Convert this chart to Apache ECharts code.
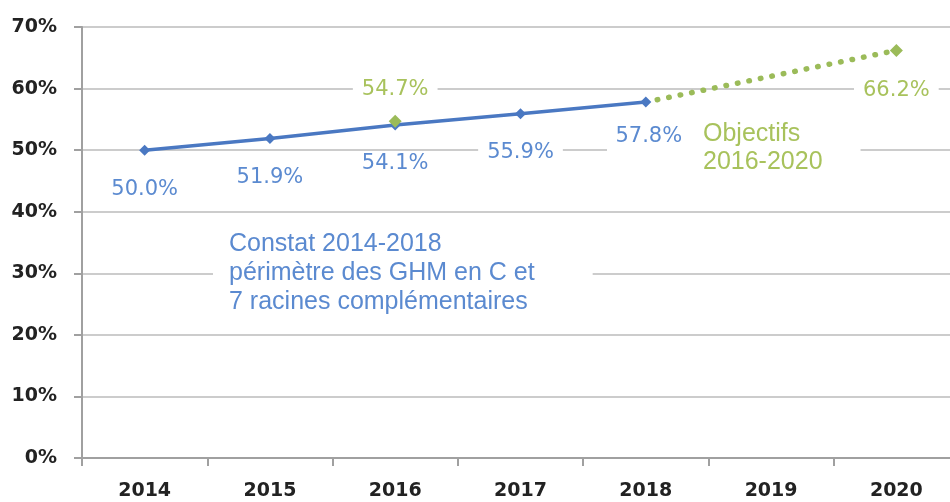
<!DOCTYPE html>
<html>
<head>
<meta charset="utf-8">
<script src="https://cdn.jsdelivr.net/npm/echarts@6/dist/echarts.min.js"></script>
<style>
  html, body { margin: 0; padding: 0; background: #fff; overflow: hidden; }
  #chart { width: 975px; height: 502px; }
</style>
</head>
<body>
<div id="chart"></div>
<script>
var years = ['2014', '2015', '2016', '2017', '2018', '2019', '2020'];
var constat = [50.0, 51.9, 54.1, 55.9, 57.8, null, null];
var objectif = [null, null, null, null, 57.8, null, 66.2];
var objectif2016 = [null, null, 54.7, null, null, null, null];

var blue = '#4a78c2';
var blueText = '#5b8ad0';
var green = '#9bbb59';
var greenText = '#a8c25c';

// le graphique d'origine est coupé à droite : la zone de tracé dépasse la fenêtre
var chart = echarts.init(document.getElementById('chart'));

var labelBase = {
    show: true,
    fontFamily: 'DejaVu Sans',
    fontSize: 21,
    lineHeight: 21,
    backgroundColor: '#fff',
    padding: [1, 9],
    formatter: function (p) { return p.value.toFixed(1) + '%'; }
};

var constatData = constat.map(function (v, i) {
    if (v === null) return null;
    var item = { value: v };
    if (i === 4) item.label = { distance: 17, offset: [3, 0] };
    return item;
});

var objectifData = objectif.map(function (v, i) {
    if (v === null) return null;
    // le point 2018 est déjà porté par la série constat
    if (i === 4) return { value: v, symbolSize: 0, label: { show: false } };
    return { value: v };
});

option = {
    backgroundColor: '#fff',
    animation: false,
    grid: { left: 82, top: 27, width: 877, height: 431 },
    xAxis: {
        type: 'category',
        data: years,
        boundaryGap: true,
        axisLine: { lineStyle: { color: '#a0a0a0', width: 2 } },
        axisTick: { show: true, length: 8, lineStyle: { color: '#a0a0a0', width: 2 } },
        axisLabel: {
            margin: 24,
            color: '#222',
            fontFamily: 'DejaVu Sans',
            fontWeight: 'bold',
            fontSize: 19
        }
    },
    yAxis: {
        type: 'value',
        min: 0,
        max: 70,
        interval: 10,
        axisLine: { show: true, lineStyle: { color: '#a0a0a0', width: 2 } },
        axisTick: { show: true, length: 8, lineStyle: { color: '#a0a0a0', width: 2 } },
        splitLine: { lineStyle: { color: '#cccccc', width: 2 } },
        axisLabel: {
            margin: 25,
            color: '#222',
            fontFamily: 'DejaVu Sans',
            fontWeight: 'bold',
            fontSize: 19,
            formatter: '{value}%'
        }
    },
    series: [{
        name: 'Objectifs',
        type: 'line',
        data: objectifData,
        connectNulls: true,
        z: 2,
        symbol: 'diamond',
        symbolSize: 13,
        itemStyle: { color: green },
        lineStyle: { color: green, width: 5.5, type: [0.5, 11.2], cap: 'round' },
        label: Object.assign({}, labelBase, { position: 'bottom', distance: 22, color: greenText })
    }, {
        name: 'Objectif 2016',
        type: 'line',
        data: objectif2016,
        z: 4,
        symbol: 'diamond',
        symbolSize: 13,
        itemStyle: { color: green },
        lineStyle: { width: 0 },
        label: Object.assign({}, labelBase, { position: 'top', distance: 14, color: greenText })
    }, {
        name: 'Constat',
        type: 'line',
        data: constatData,
        z: 3,
        symbol: 'diamond',
        symbolSize: 11,
        itemStyle: { color: blue },
        lineStyle: { color: blue, width: 3.5 },
        label: Object.assign({}, labelBase, { position: 'bottom', distance: 22, color: blueText })
    }],
    graphic: [{
        type: 'text',
        left: 213,
        top: 226,
        z: 1,
        style: {
            text: 'Constat 2014-2018\npérimètre des GHM en C et\n7 racines complémentaires',
            font: '25px "Liberation Sans", Arial, sans-serif',
            lineHeight: 29,
            fill: blueText,
            backgroundColor: '#fff',
            padding: [4, 58, 4, 16]
        }
    }, {
        type: 'text',
        left: 607,
        top: 116,
        z: 1,
        style: {
            text: 'Objectifs\n2016-2020',
            font: '25px "Liberation Sans", Arial, sans-serif',
            lineHeight: 28,
            fill: greenText,
            backgroundColor: '#fff',
            padding: [4, 38, 4, 96]
        }
    }]
};

chart.setOption(option);
</script>
</body>
</html>
